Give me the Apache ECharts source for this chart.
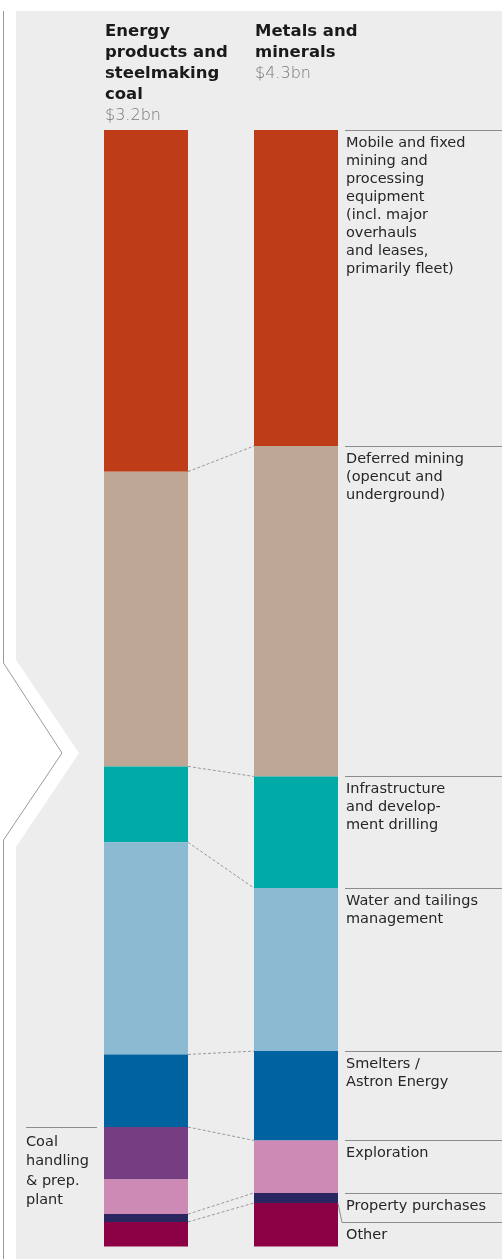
<!DOCTYPE html>
<html><head><meta charset="utf-8">
<script src="https://cdn.jsdelivr.net/npm/echarts@6/dist/echarts.min.js"></script>
<style>html,body{margin:0;padding:0;background:#fff}#c{width:502px;height:1259px}</style>
</head><body><div id="c"></div>
<script>
// ---- data ----
const categories = ['Energy\nproducts and\nsteelmaking\ncoal', 'Metals and\nminerals'];
const totals = ['$3.2bn', '$4.3bn'];
const segments = [
  'Mobile and fixed\nmining and\nprocessing\nequipment\n(incl. major\noverhauls\nand leases,\nprimarily fleet)',
  'Deferred mining\n(opencut and\nunderground)',
  'Infrastructure\nand develop-\nment drilling',
  'Water and tailings\nmanagement',
  'Smelters /\nAstron Energy',
  'Coal\nhandling\n& prep.\nplant',
  'Exploration',
  'Property purchases',
  'Other'
];
// share of each category's total capex, %
const energyShare = [30.6, 26.4, 6.8, 19.0, 6.5, 4.7, 3.1, 0.7, 2.2];
const metalsShare = [28.3, 29.6, 10.0, 14.6, 8.0, 0, 4.7, 0.9, 3.9];

// ---- style ----
const colors = ['#bf3c19','#bea795','#00aaa6','#8cbad2','#00629e','#763d82','#cd8ab5','#2a2660','#8c0046'];
const FONT = '"DejaVu Sans", sans-serif';
const BAR_W = 84;
const OTHER_DROP = 19;
const LINE_C = '#8c8c8c';

function cum(arr){ const out=[0]; arr.forEach(v=>out.push(out[out.length-1]+v)); return out; }
const cumE = cum(energyShare), cumM = cum(metalsShare);

const connectorData = [];
segments.forEach((s,i)=>{ if (metalsShare[i] > 0 && energyShare[i] > 0 && i < segments.length-1) connectorData.push([0, cumE[i+1], cumM[i+1]]); });
const labelData = segments.map((s,i)=> metalsShare[i] > 0 ? [1, cumM[i], i] : [0, cumE[i], i]);

const chart = echarts.init(document.getElementById('c'), null, {renderer:'canvas'});

const barSeries = segments.map((s,i)=>({
  type:'bar', stack:'total', barWidth:BAR_W, name:s,
  data:[energyShare[i], metalsShare[i]],
  itemStyle:{color:colors[i]}, silent:true, animation:false
}));

chart.setOption({
  animation:false,
  grid:{left:71, width:300, top:130, bottom:12.5},
  xAxis:{type:'category', data:categories, show:false},
  yAxis:{type:'value', min:0, max:100, inverse:true, show:false},
  graphic:[
    {type:'polygon', z:-10, shape:{points:[[16,11],[502,11],[502,1259],[16,1259],[16,847],[79,753],[16,660]]}, style:{fill:'#ededed'}},
    {type:'polyline', z:-9, shape:{points:[[3.5,11],[3.5,663],[62,753],[3.5,840],[3.5,1259]]}, style:{stroke:'#9a9a9a', lineWidth:1, fill:null}}
  ],
  series: barSeries.concat([
    {
      type:'custom', clip:false, silent:true, z:3,
      encode:{x:0, y:1},
      data: connectorData,
      renderItem:(params, api)=>{
        const a = api.coord([0, api.value(1)]);
        const b = api.coord([1, api.value(2)]);
        return {type:'line', shape:{x1:a[0]+BAR_W/2, y1:a[1], x2:b[0]-BAR_W/2, y2:b[1]},
          style:{stroke:'#9a9a9a', lineWidth:1, lineDash:[3,2]}};
      }
    },
    {
      type:'custom', clip:false, silent:true, z:3,
      encode:{x:0, y:1},
      data: labelData,
      renderItem:(params, api)=>{
        const cat = api.value(0), start = api.value(1), idx = api.value(2);
        const p = api.coord([cat, start]);
        const W = api.getWidth();
        const half = BAR_W/2;
        const children = [];
        let y = Math.round(p[1]) + 0.5;
        if (cat === 1) {
          const x0 = p[0] + half + 7;
          if (idx === segments.length-1) {
            const yd = y + OTHER_DROP;
            children.push({type:'polyline', shape:{points:[[p[0]+half, y],[x0-3, yd],[W, yd]]}, style:{stroke:LINE_C, lineWidth:1, fill:null}});
            y = yd;
          } else {
            children.push({type:'line', shape:{x1:x0, y1:y, x2:W, y2:y}, style:{stroke:LINE_C, lineWidth:1}});
          }
          children.push({type:'text', style:{text:segments[idx], x:x0+1, y:y+3.5, fill:'#262626', fontSize:14.5, fontFamily:FONT, lineHeight:18, verticalAlign:'top', align:'left'}});
        } else {
          const x1 = p[0] - half - 7;
          const x0 = x1 - 71;
          children.push({type:'line', shape:{x1:x0, y1:y, x2:x1, y2:y}, style:{stroke:LINE_C, lineWidth:1}});
          children.push({type:'text', style:{text:segments[idx], x:x0, y:y+5, fill:'#262626', fontSize:14.5, fontFamily:FONT, lineHeight:19.3, verticalAlign:'top', align:'left'}});
        }
        return {type:'group', children};
      }
    },
    {
      type:'custom', clip:false, silent:true, z:3,
      encode:{x:0, y:1},
      data: categories.map((c,i)=>[i, 0]),
      renderItem:(params, api)=>{
        const i = api.value(0);
        const p = api.coord([i, 0]);
        const lines = categories[i].split('\n').map(l=>'{b|'+l+'}').join('\n') + '\n{t|' + totals[i] + '}';
        return {type:'text', style:{text:lines, x:p[0]-BAR_W/2+1, y:21.5, verticalAlign:'top', align:'left',
          rich:{
            b:{fontSize:16.5, fontWeight:'bold', fontFamily:FONT, fill:'#1a1a1a', lineHeight:21},
            t:{fontSize:16, fontWeight:300, fontFamily:FONT, fill:'#777', lineHeight:21}
          }}};
      }
    }
  ])
});
</script>
</body></html>
